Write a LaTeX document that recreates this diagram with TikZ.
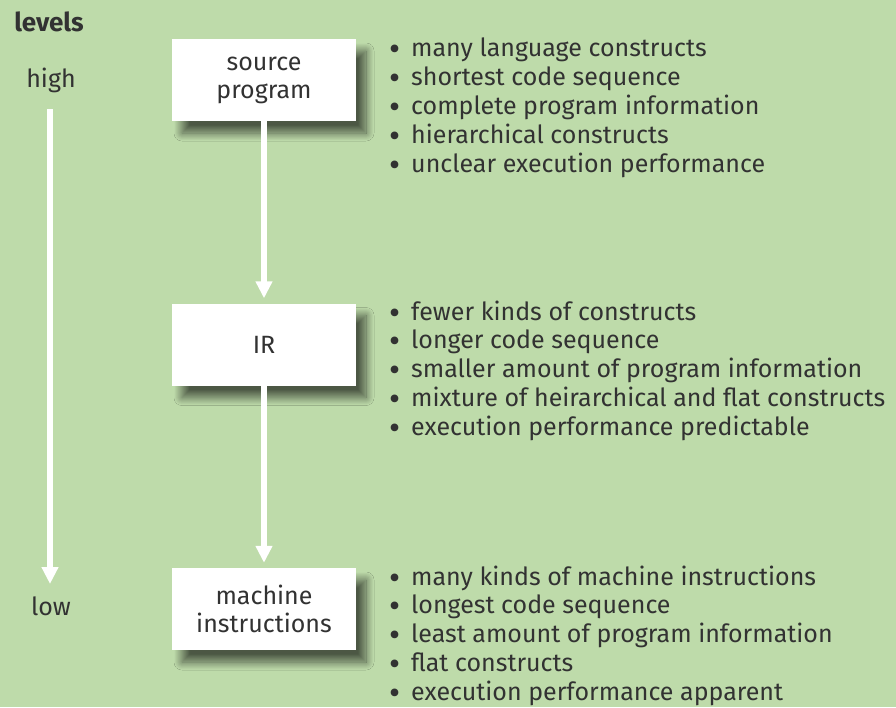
\documentclass[tikz,border=0pt]{standalone}
\usepackage{fontspec}
\setmainfont{Fira Sans}
\usetikzlibrary{arrows.meta,shadows.blur}
\definecolor{bgc}{RGB}{190,219,170}
\definecolor{txt}{RGB}{50,50,50}
\tikzset{
  levbox/.style={fill=white, minimum width=184pt, minimum height=82pt, inner sep=0pt, align=center,
    font=\fontsize{25}{28}\selectfont, text=txt,
    blur shadow={shadow xshift=10pt, shadow yshift=-12pt, shadow blur radius=8pt, shadow blur steps=16, shadow opacity=60}},
  wharrow/.style={white, line width=6pt, -{Triangle[width=16pt,length=17pt]}},
  bitem/.style={anchor=base west, inner sep=0pt, text=txt, font=\fontsize{25}{29}\selectfont},
  lab/.style={text=txt, font=\fontsize{25}{28}\selectfont, inner sep=0pt}
}
\newcommand{\bul}[1]{\makebox[22pt][l]{\raisebox{-4pt}[0pt][0pt]{\fontsize{34}{29}\selectfont\textbullet}}#1}
\begin{document}
\begin{tikzpicture}[x=1pt,y=-1pt]
\useasboundingbox (0,0) rectangle (896,707);
\fill[bgc] (0,0) rectangle (896,707);
\node[lab, font=\fontsize{26}{28}\selectfont\bfseries] (levels) at (49,22) {levels};
\node[lab] (high) at (51,80) {high};
\node[lab] (low) at (51,606) {low};
\coordinate (ltop) at (50,109);
\coordinate (lbot) at (50,584);
\draw[wharrow] (ltop) -- (lbot);
\node[levbox] (src) at (264,80) {source\\program};
\node[levbox] (ir) at (264,344.5) {IR};
\node[levbox] (mach) at (264,609) {machine\\instructions};
\draw[wharrow, shorten >=5pt] (src) -- (ir);
\draw[wharrow, shorten >=5pt] (ir) -- (mach);
\foreach \t [count=\i] in {many language constructs, shortest code sequence, complete program information, hierarchical constructs, unclear execution performance}
  \node[bitem] (a\i) at (389, 56.5+29*\i-29) {\bul{\t}};
\foreach \t [count=\i] in {fewer kinds of constructs, longer code sequence, smaller amount of program information, mixture of heirarchical and flat constructs, execution performance predictable}
  \node[bitem] (b\i) at (389, 320+28.75*\i-28.75) {\bul{\t}};
\foreach \t [count=\i] in {many kinds of machine instructions, longest code sequence, least amount of program information, flat constructs, execution performance apparent}
  \node[bitem] (c\i) at (389, 585+28.75*\i-28.75) {\bul{\t}};
\end{tikzpicture}
\end{document}
